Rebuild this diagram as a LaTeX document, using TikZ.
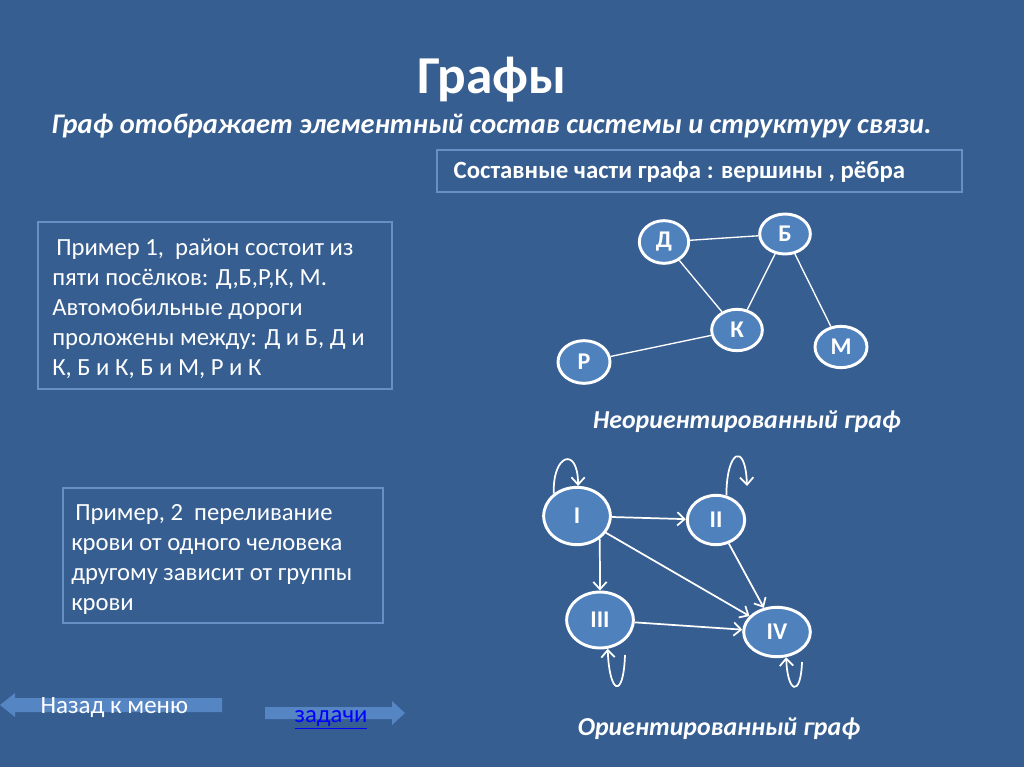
\documentclass[tikz,border=0pt]{standalone}
\usepackage{fontspec}
\setmainfont{Carlito}
\usetikzlibrary{arrows.meta,shapes.geometric}
\definecolor{slidebg}{HTML}{365E91}
\definecolor{vertexfill}{HTML}{4F81BD}
\definecolor{boxline}{HTML}{6690C6}
\definecolor{navarrow}{HTML}{5585C2}
\definecolor{linkblue}{HTML}{0000FF}

\tikzset{
  vertex/.style={ellipse, draw=white, line width=2.2pt, fill=vertexfill, text=white,
    inner sep=0pt, font=\bfseries\fontsize{18}{20}\selectfont},
  road/.style={white, line width=1pt},
  flow/.style={white, line width=1.3pt, -{Straight Barb[length=5.5pt,width=10pt]}},
  infobox/.style={draw=boxline, line width=1pt},
  boxtext/.style={anchor=north west, text=white, align=left, inner sep=0pt,
    font=\fontsize{18.5}{22.5}\selectfont},
  caption/.style={text=white, font=\bfseries\itshape\fontsize{19.4}{22}\selectfont}
}

\begin{document}
\begin{tikzpicture}[x=0.75pt, y=-0.75pt]
  \fill[slidebg] (0,0) rectangle (1024,767);
  \useasboundingbox (0,0) rectangle (1024,767);

  % title
  \node[text=white, font=\bfseries\fontsize{40}{44}\selectfont] (title) at (492,80) {Графы};
  \node[anchor=base west, text=white, font=\bfseries\itshape\fontsize{21.3}{24}\selectfont] (subtitle)
    at (47,133) {Граф отображает элементный состав системы и структуру связи.};

  % boxes
  \draw[infobox] (437,150) rectangle (962,192);
  \node[anchor=base west, text=white, font=\bfseries\fontsize{18.6}{20}\selectfont] (parts)
    at (449,178) {Составные части графа : вершины , рёбра};

  \draw[infobox] (38,222) rectangle (392,389);
  \node[boxtext] (ex1) at (52,239) {\hspace{3pt}Пример 1,\ \ район состоит из\\пяти посёлков: Д,Б,Р,К, М.\\Автомобильные дороги\\проложены между: Д и Б, Д и\\К, Б и К, Б и М, Р и К};

  \draw[infobox] (63,488) rectangle (383,623);
  \node[boxtext] (ex2) at (71,504) {\hspace{3pt}Пример, 2\ \ переливание\\крови от одного человека\\другому зависит от группы\\крови};

  % undirected graph
  \node[vertex, minimum width=37pt, minimum height=32pt] (D) at (664,242) {Д};
  \node[vertex, minimum width=38pt, minimum height=30pt] (B) at (785,234) {Б};
  \node[vertex, minimum width=38pt, minimum height=31pt] (K) at (737,330) {К};
  \node[vertex, minimum width=39pt, minimum height=31pt] (M) at (841,347) {М};
  \node[vertex, minimum width=39pt, minimum height=32pt] (R) at (584,362) {Р};
  \draw[road] (D) -- (B);
  \draw[road] (D) -- (K);
  \draw[road] (B) -- (K);
  \draw[road] (B) -- (M);
  \draw[road] (R) -- (K);
  \node[caption] (cap1) at (747,422) {Неориентированный граф};

  % directed graph
  \node[vertex, minimum width=50pt, minimum height=43pt] (v1) at (577,516) {I};
  \node[vertex, minimum width=43pt, minimum height=37pt] (v2) at (716,520) {II};
  \node[vertex, minimum width=50pt, minimum height=42pt] (v3) at (600,620) {III};
  \node[vertex, minimum width=50pt, minimum height=37pt] (v4) at (777,632) {IV};
  \draw[flow] (v1) -- (v2);
  \draw[flow] (v1.-45) -- (v3.north);
  \draw[flow] (v1) -- (v4);
  \draw[flow] (v2) -- (v4);
  \draw[flow] (v3) -- (v4);
  \coordinate (l2) at (747,486);
  \coordinate (l3) at (625,655);
  \coordinate (l4) at (802,662);
  \draw[flow] (v1.136) to[out=92, in=90, distance=30pt] (v1.88);
  \draw[flow] (v2.67) to[out=90, in=92, distance=34pt] (l2);
  \draw[flow] (l3) to[out=-92, in=-88, distance=34pt] (v3.-75);
  \draw[flow] (l4) to[out=-92, in=-88, distance=27pt] (v4.-70);
  \node[caption] (cap2) at (719,729) {Ориентированный граф};

  % navigation
  \fill[navarrow] (222,698) -- (15,698) -- (15,693) -- (0,705) -- (15,717) -- (15,712) -- (222,712) -- cycle;
  \node[anchor=base west, text=white, font=\fontsize{18.7}{20}\selectfont] (back) at (36,713) {Назад к меню};
  \fill[navarrow] (265,707) -- (392,707) -- (392,701) -- (405,713) -- (392,725) -- (392,719) -- (265,719) -- cycle;
  \node[anchor=base west, text=linkblue, font=\fontsize{18.5}{20}\selectfont] (tasks) at (290,722) {\underline{задачи}};
\end{tikzpicture}
\end{document}
